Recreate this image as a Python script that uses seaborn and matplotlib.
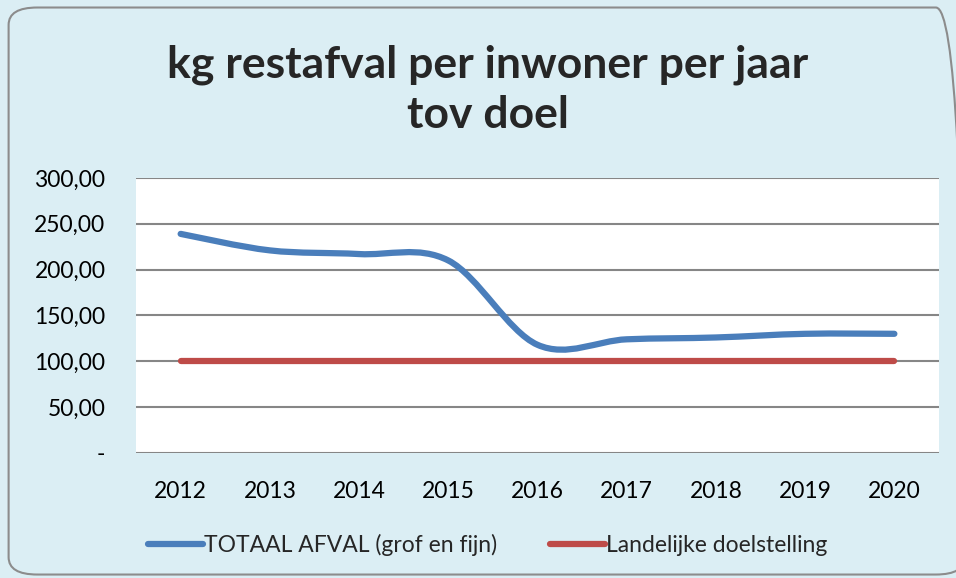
import numpy as np
import matplotlib
matplotlib.use("Agg")
import matplotlib.pyplot as plt
import seaborn as sns
import pandas as pd
from matplotlib.path import Path
from matplotlib.patches import PathPatch, FancyBboxPatch
from matplotlib.ticker import FuncFormatter

# data
years = [2012, 2013, 2014, 2015, 2016, 2017, 2018, 2019, 2020]
totaal_afval = [239, 221, 217, 210, 118, 124, 126, 130, 130]
doelstelling = [100, 100, 100, 100, 100, 100, 100, 100, 100]

blue = "#4A7EBB"
red = "#BE4B48"
bg = "#DBEEF4"

sns.set_theme(style="white")
plt.rcParams["font.family"] = ["Lato", "DejaVu Sans"]

fig = plt.figure(figsize=(9.56, 5.78), dpi=100)
fig.patch.set_facecolor(bg)

# rounded border around the chart
border = FancyBboxPatch((0.009, 0.006), 1.0, 0.981, boxstyle="round,pad=0,rounding_size=0.03",
                        transform=fig.transFigure, facecolor="none", edgecolor="#8C8C8C", linewidth=1.5)
fig.patches.append(border)

ax = fig.add_axes([0.1423, 0.2163, 0.8399, 0.4758])
ax.set_facecolor("white")

df = pd.DataFrame({"year": years, "totaal": totaal_afval, "doel": doelstelling})

# red target line
sns.lineplot(data=df, x="year", y="doel", ax=ax, color=red, linewidth=4.5,
             solid_capstyle="round", label="Landelijke doelstelling", zorder=3)

# blue line, smoothed like the spreadsheet (bezier through the points)
x = np.array(years, dtype=float)
y = np.array(totaal_afval, dtype=float)
verts = [(x[0], y[0])]
codes = [Path.MOVETO]
for i in range(len(x) - 1):
    x0, y0 = (x[i - 1], y[i - 1]) if i > 0 else (x[i], y[i])
    x3, y3 = (x[i + 2], y[i + 2]) if i + 2 < len(x) else (x[i + 1], y[i + 1])
    c1 = (x[i] + (x[i + 1] - x0) / 6, y[i] + (y[i + 1] - y0) / 6)
    c2 = (x[i + 1] - (x3 - x[i]) / 6, y[i + 1] - (y3 - y[i]) / 6)
    verts += [c1, c2, (x[i + 1], y[i + 1])]
    codes += [Path.CURVE4] * 3
ax.add_patch(PathPatch(Path(verts, codes), facecolor="none", edgecolor=blue,
                       linewidth=4.5, capstyle="round", zorder=4))
ax.plot([], [], color=blue, linewidth=4.5, solid_capstyle="round", label="TOTAAL AFVAL (grof en fijn)")

ax.set_xlim(2011.5, 2020.5)
ax.set_ylim(0, 300)
ax.set_xticks(years)
ax.set_yticks(range(0, 301, 50))
ax.yaxis.set_major_formatter(FuncFormatter(lambda v, p: "-" if v == 0 else f"{v:.2f}".replace(".", ",")))
ax.grid(axis="y", color="#868686", linewidth=1.5)
ax.set_axisbelow(True)
for s in ax.spines.values():
    s.set_visible(False)
ax.tick_params(axis="both", length=0, labelsize=16.5, colors="black")
ax.tick_params(axis="x", pad=20)
ax.tick_params(axis="y", pad=22)
ax.set_xlabel("")
ax.set_ylabel("")

fig.text(0.51, 0.845, "kg restafval per inwoner per jaar\ntov doel", ha="center", va="center",
         fontsize=32, fontweight="bold", linespacing=1.3)

h, l = ax.get_legend_handles_labels()
ax.legend([h[1], h[0]], [l[1], l[0]], loc="center", bbox_to_anchor=(0.51, 0.058),
          bbox_transform=fig.transFigure, ncol=2, frameon=False, fontsize=16.5,
          handlelength=2.4, handletextpad=0.05, columnspacing=2.3)

fig.savefig("out.png", dpi=100, facecolor=bg)
